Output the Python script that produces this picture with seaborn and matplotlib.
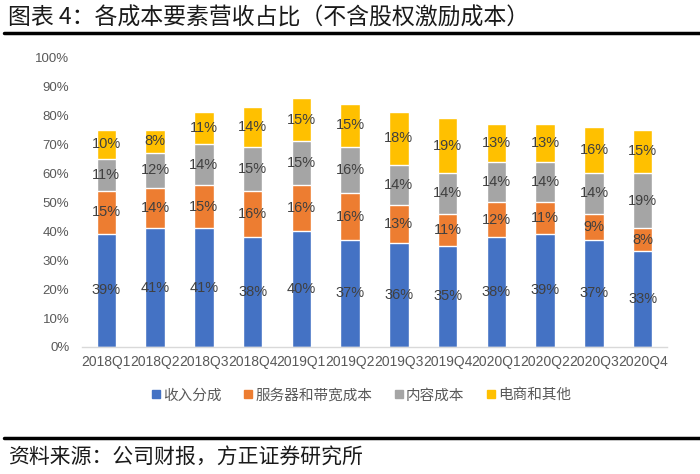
import numpy as np
import pandas as pd
import seaborn as sns
import matplotlib.pyplot as plt
from matplotlib.lines import Line2D
from matplotlib.ticker import PercentFormatter

# data (percent of revenue)
quarters = ["2018Q1", "2018Q2", "2018Q3", "2018Q4", "2019Q1", "2019Q2",
            "2019Q3", "2019Q4", "2020Q1", "2020Q2", "2020Q3", "2020Q4"]
revenue_share = [39, 41, 41, 38, 40, 37, 36, 35, 38, 39, 37, 33]
server_bandwidth = [15, 14, 15, 16, 16, 16, 13, 11, 12, 11, 9, 8]
content_cost = [11, 12, 14, 15, 15, 16, 14, 14, 14, 14, 14, 19]
ecommerce_other = [10, 8, 11, 14, 15, 15, 18, 19, 13, 13, 16, 15]

series_names = ["收入分成", "服务器和带宽成本", "内容成本", "电商和其他"]
colors = ["#4472C4", "#ED7D31", "#A5A5A5", "#FFC000"]

sns.set_style("white")
plt.rcParams["font.family"] = ["Liberation Sans", "Noto Sans CJK SC", "DejaVu Sans"]

df = pd.DataFrame({
    "quarter": quarters,
    series_names[0]: revenue_share,
    series_names[1]: server_bandwidth,
    series_names[2]: content_cost,
    series_names[3]: ecommerce_other,
})
values = df[series_names].to_numpy() / 100.0
cum = np.cumsum(values, axis=1)

fig = plt.figure(figsize=(7, 4.74), dpi=100)
ax = fig.add_axes([0.117, 0.268, 0.836, 0.611])

# stacked bars: draw tallest cumulative layer first, then cover downwards
for k in range(len(series_names) - 1, -1, -1):
    sns.barplot(x=df["quarter"], y=cum[:, k], color=colors[k], width=0.4,
                saturation=1, ax=ax, zorder=2)

# segment labels
for i in range(len(quarters)):
    bottom = 0.0
    for k in range(len(series_names)):
        v = values[i, k]
        ax.text(i, bottom + v / 2, f"{int(round(v * 100))}%", ha="center",
                va="center", fontsize=10.5, color="#404040", zorder=3)
        bottom += v

ax.set_ylim(0, 1)
ax.set_xlim(-0.5, len(quarters) - 0.5)
ax.set_yticks(np.arange(0, 1.01, 0.1))
ax.yaxis.set_major_formatter(PercentFormatter(1.0, decimals=0))
ax.set_xlabel("")
ax.set_ylabel("")
for s in ["top", "right", "left"]:
    ax.spines[s].set_visible(False)
ax.spines["bottom"].set_color("#D9D9D9")
ax.spines["bottom"].set_linewidth(1)
ax.tick_params(axis="y", length=0, pad=9, labelsize=9.5, labelcolor="#595959")
ax.tick_params(axis="x", length=0, pad=6, labelsize=10, labelcolor="#595959")

handles = [Line2D([], [], marker="s", linestyle="none", markersize=6,
                  markerfacecolor=c, markeredgecolor=c) for c in colors]
fig.legend(handles, series_names, loc="center", bbox_to_anchor=(0.514, 0.166),
           ncol=4, frameon=False, handletextpad=0.0, handlelength=1.0,
           columnspacing=1.3,
           prop={"family": ["Noto Sans CJK SC"], "size": 10.5},
           labelcolor="#595959")

# title, rules and source note
fig.text(0.012, 1 - 18 / 474, "图表 4：各成本要素营收占比（不含股权激励成本）",
         fontsize=16.5, va="center", ha="left", color="#1a1a1a",
         family=["Noto Sans CJK SC", "DejaVu Sans"])
fig.add_artist(Line2D([0.006, 1.0], [1 - 33 / 474] * 2, color="black", lw=2.5))
fig.add_artist(Line2D([0.006, 1.0], [1 - 438 / 474] * 2, color="black", lw=2.5))
fig.text(0.012, 1 - 458 / 474, "资料来源：公司财报，方正证券研究所",
         fontsize=15, va="center", ha="left", color="#1a1a1a",
         family=["Noto Sans CJK SC", "DejaVu Sans"])

fig.savefig("out.png", dpi=100)
